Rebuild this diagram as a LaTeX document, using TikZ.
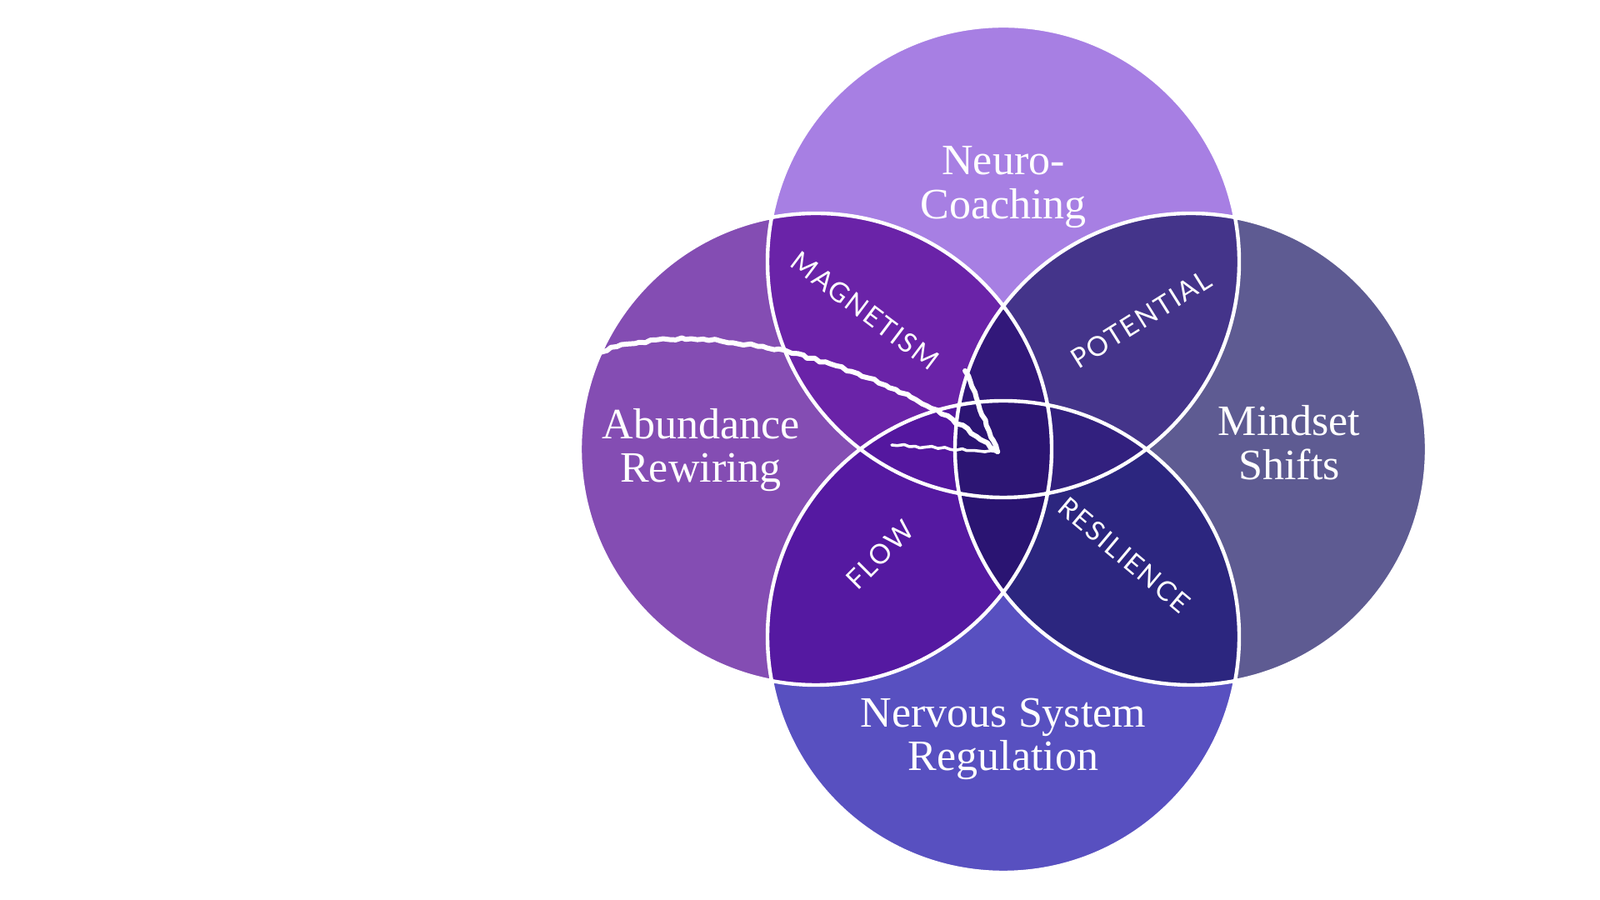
\documentclass[tikz,border=0pt]{standalone}
\usepackage{fontspec}
\setmainfont{Liberation Serif}
\newfontfamily\capsfont[LetterSpace=6]{Lato}
\usepackage{tikz}
\usetikzlibrary{decorations.pathmorphing}
\usepackage{xcolor}
\definecolor{neurolilac}{RGB}{167, 127, 227}
\definecolor{abundviolet}{RGB}{132, 77, 179}
\definecolor{mindslate}{RGB}{94, 91, 146}
\definecolor{nervindigo}{RGB}{88, 80, 192}
\definecolor{magnetpurple}{RGB}{106, 35, 168}
\definecolor{potentindigo}{RGB}{68, 52, 138}
\definecolor{flowpurple}{RGB}{85, 25, 161}
\definecolor{resilnavy}{RGB}{44, 38, 127}
\definecolor{lensleft}{RGB}{84, 23, 159}
\definecolor{lensright}{RGB}{50, 32, 126}
\definecolor{lensupper}{RGB}{50, 24, 122}
\definecolor{lenslower}{RGB}{42, 20, 114}
\definecolor{coredark}{RGB}{44, 21, 115}

\begin{document}
\begin{tikzpicture}[
    circletitle/.style={text=white, align=center, font=\fontsize{14.8}{15}\selectfont},
    lenslabel/.style={text=white, font=\capsfont\fontsize{9.3}{10}\selectfont},
    chalk/.style={white, line width=1.7pt, line cap=round, line join=round,
      decorate, decoration={random steps, segment length=2pt, amplitude=0.45pt}}]
  \useasboundingbox (0,0) rectangle (19.2,10.8);
  \def\rad{2.83}
  \coordinate (neuro) at (12.04,7.66);
  \coordinate (abund) at (9.79,5.41);
  \coordinate (mind) at (14.29,5.41);
  \coordinate (nerv) at (12.04,3.16);

  % four circles
  \fill[neurolilac] (neuro) circle (\rad);
  \fill[abundviolet] (abund) circle (\rad);
  \fill[mindslate] (mind) circle (\rad);
  \fill[nervindigo] (nerv) circle (\rad);

  % overlaps of two
  \begin{scope}
    \clip (neuro) circle (\rad);
    \fill[magnetpurple] (abund) circle (\rad);
    \fill[potentindigo] (mind) circle (\rad); \end{scope}
  \begin{scope}
    \clip (nerv) circle (\rad);
    \fill[flowpurple] (abund) circle (\rad);
    \fill[resilnavy] (mind) circle (\rad); \end{scope}

  % overlaps of three and four
  \begin{scope}
    \clip (neuro) circle (\rad); \clip (nerv) circle (\rad);
    \fill[lensleft] (abund) circle (\rad);
    \fill[lensright] (mind) circle (\rad); \end{scope}
  \begin{scope}
    \clip (abund) circle (\rad); \clip (mind) circle (\rad);
    \fill[lensupper] (neuro) circle (\rad);
    \fill[lenslower] (nerv) circle (\rad); \end{scope}
  \begin{scope}
    \clip (neuro) circle (\rad); \clip (nerv) circle (\rad); \clip (abund) circle (\rad);
    \fill[coredark] (mind) circle (\rad); \end{scope}

  % white rims
  \draw[white, line width=1.25pt] (neuro) circle (\rad) (abund) circle (\rad)
    (mind) circle (\rad) (nerv) circle (\rad);

  % chalk arrow
  \coordinate (chalkstart) at (7.20,6.57);
  \coordinate (chalktip) at (11.97,5.38);
  \coordinate (barbup) at (11.58,6.35);
  \coordinate (barbleft) at (10.70,5.46);
  \draw[chalk] (chalkstart) .. controls (8.3,7.0) and (10.5,6.55) .. (chalktip);
  \draw[chalk] (barbup) -- (chalktip);
  \draw[chalk, line width=1pt] (barbleft) -- (chalktip);

  % titles
  \node[circletitle] (neurotext) at (12.04,8.555) {Neuro-\\Coaching};
  \node[circletitle] (abundtext) at (8.41,5.40) {Abundance\\Rewiring};
  \node[circletitle] (mindtext) at (15.47,5.49) {Mindset\\Shifts};
  \node[circletitle] (nervtext) at (12.04,1.93) {Nervous System\\Regulation};

  % lens words
  \node[lenslabel, rotate=-37] (magnetism) at (10.38,7.07) {MAGNETISM};
  \node[lenslabel, rotate=32] (potential) at (13.69,6.97) {POTENTIAL};
  \node[lenslabel, rotate=45] (flow) at (10.56,4.14) {FLOW};
  \node[lenslabel, rotate=-40] (resilience) at (13.49,4.14) {RESILIENCE};
\end{tikzpicture}
\end{document}
